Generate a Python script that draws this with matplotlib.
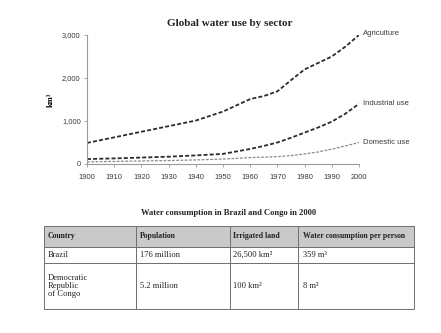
#!/usr/bin/env python3
"""
Global water use by sector, plus the Brazil / Congo water table.
"""

import matplotlib

matplotlib.use("Agg")

import matplotlib.pyplot as plt


years = [1900, 1910, 1920, 1930, 1940, 1950, 1960, 1965, 1970, 1975, 1980, 1985, 1990, 1995, 2000]
agriculture = [490, 620, 750, 880, 1010, 1220, 1510, 1580, 1690, 1950, 2200, 2350, 2500, 2730, 3000]
industrial = [115, 130, 150, 170, 200, 235, 350, 420, 500, 610, 730, 850, 985, 1170, 1400]
domestic = [50, 60, 70, 80, 95, 115, 150, 160, 170, 195, 235, 280, 345, 420, 500]

series_names = ["Agriculture", "Industrial use", "Domestic use"]

table_header = ["Country", "Population", "Irrigated land", "Water consumption per person"]
table_rows = [
    ["Brazil", "176 million", "26,500 km²", "359 m³"],
    ["Democratic\nRepublic\nof Congo", "5.2 million", "100 km²", "8 m³"],
]

COLORS = {
    "dark": "#2b2b2b",
    "light": "#8a8a8a",
    "axis": "#9a9a9a",
    "header": "#c9c9c9",
    "ink": "#222222",
    "tick": "#3a3a3a",
}

SERIF = ["Liberation Serif", "DejaVu Serif"]
SANS = ["Liberation Sans", "DejaVu Sans"]

W, H = 441, 333


def px_box(x0, y0, x1, y1):
    # pixel box (top-left origin) -> figure fraction rect
    return [x0 / W, 1 - y1 / H, (x1 - x0) / W, (y1 - y0) / H]


fig = plt.figure(figsize=(W / 100, H / 100), dpi=100, facecolor="white")

# ---- line chart ----
ax = fig.add_axes(px_box(87, 35, 359, 164))
styles = [
    (agriculture, COLORS["dark"], 1.3, 1),
    (industrial, COLORS["dark"], 1.3, 0),
    (domestic, COLORS["light"], 0.9, 0),
]
for (values, color, lw, dy), name in zip(styles, series_names):
    ax.plot(years, values, color=color, lw=lw, ls=(0, (2.2, 1.2)))
    ax.annotate(name, (years[-1], values[-1]), xytext=(3, dy), textcoords="offset points",
                fontsize=5.5, family=SANS, color=COLORS["tick"], va="center", ha="left")

ax.set_xlim(1900, 2000)
ax.set_ylim(0, 3000)
ax.set_xticks(range(1900, 2001, 10))
ax.set_yticks([0, 1000, 2000, 3000])
ax.set_yticklabels(["0", "1,000", "2,000", "3,000"])
for spine in ["top", "right"]:
    ax.spines[spine].set_visible(False)
for spine in ["left", "bottom"]:
    ax.spines[spine].set_color(COLORS["axis"])
    ax.spines[spine].set_linewidth(0.8)
ax.tick_params(axis="both", colors=COLORS["axis"], labelcolor=COLORS["tick"], labelsize=5.4,
               length=2.5, width=0.6, pad=2)
ax.tick_params(axis="x", pad=5)
for lab in ax.get_xticklabels() + ax.get_yticklabels():
    lab.set_family(SANS)
ax.set_ylabel("km³", fontsize=6, family=SERIF, fontweight="bold", labelpad=5)
fig.text(230 / W, 1 - 24 / H, "Global water use by sector", ha="center", va="center",
         fontsize=8, family=SERIF, fontweight="bold", color=COLORS["ink"])

# ---- table ----
fig.text(229 / W, 1 - 213 / H, "Water consumption in Brazil and Congo in 2000", ha="center",
         va="center", fontsize=6.1, family=SERIF, fontweight="bold", color=COLORS["ink"])

tax = fig.add_axes(px_box(44, 226, 414, 309))
tax.axis("off")
col_px = [92, 94, 68, 116]
row_px = [21, 16, 46]
tbl = tax.table(cellText=[table_header] + table_rows, cellLoc="left", loc="center",
                colWidths=[c / sum(col_px) for c in col_px], bbox=[0, 0, 1, 1])
tbl.auto_set_font_size(False)
for (r, c), cell in tbl.get_celld().items():
    cell.set_height(row_px[r])
    cell.set_edgecolor("#6f6f6f")
    cell.set_linewidth(0.7)
    cell.PAD = 0.04
    txt = cell.get_text()
    txt.set_family(SERIF)
    txt.set_color(COLORS["ink"])
    txt.set_linespacing(1.0)
    if r == 0:
        cell.set_facecolor(COLORS["header"])
        txt.set_fontweight("bold")
        txt.set_fontsize(5.6)
    else:
        txt.set_fontsize(6.1)

fig.savefig("out.png", dpi=100, facecolor="white")
